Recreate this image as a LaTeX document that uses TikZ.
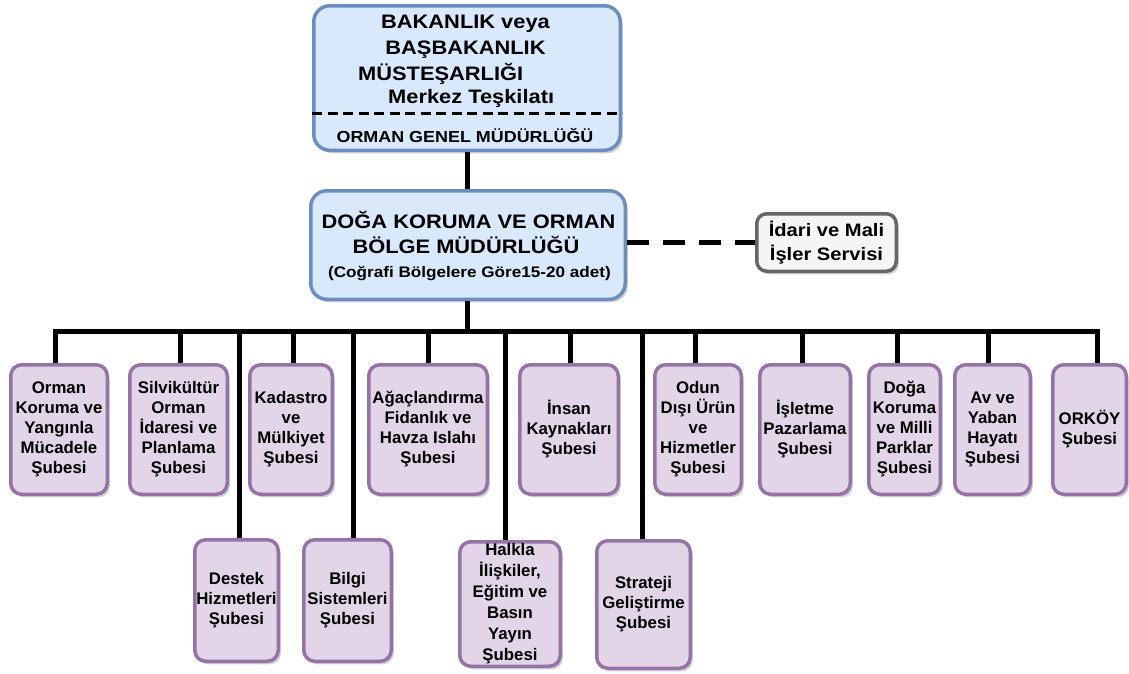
\documentclass[tikz,border=0pt]{standalone}
\usepackage{fontspec}
\setmainfont{Liberation Sans}
\newfontfamily\widefont{Liberation Sans}[FakeStretch=1.12]
\usetikzlibrary{shadows}
\definecolor{pfill}{HTML}{E1D5E7}
\definecolor{pdraw}{HTML}{9673A6}
\definecolor{bfill}{HTML}{DAE8FC}
\definecolor{bdraw}{HTML}{6C8EBF}
\definecolor{gfill}{HTML}{F5F5F5}
\definecolor{gdraw}{HTML}{666666}
\begin{document}
\begin{tikzpicture}[x=1pt,y=-1pt,
  shad/.style={drop shadow={shadow xshift=2.5pt,shadow yshift=-3pt,fill=black,opacity=0.18}},
  sube/.style={draw=pdraw, fill=pfill, line width=3.5pt, rounded corners=11pt,
    align=center, inner sep=0pt, shad,
    font=\fontsize{16.8}{20}\selectfont\bfseries},
  bigbox/.style={draw=bdraw, fill=bfill, line width=3.5pt, rounded corners=16pt,
    inner sep=0pt, shad},
  wtxt/.style={inner sep=0pt, anchor=base, font=\widefont\fontsize{19.5}{24}\selectfont\bfseries},
  conn/.style={line width=5pt, black}]
\useasboundingbox (0,0) rectangle (1129,673);

% top boxes
\node[bigbox, minimum width=306.5pt, minimum height=144.5pt] (top) at (467,78) {};
\draw[line width=3pt, dash pattern=on 10pt off 5.5pt] (top.west |- 0,113) coordinate (dl) -- (top.east |- dl);
\node[wtxt] (t1) at (465.5,28) {BAKANLIK veya};
\node[wtxt] (t2) at (465.5,54) {BAŞBAKANLIK};
\node[wtxt, anchor=base west] (t3) at (358,80) {MÜSTEŞARLIĞI};
\node[wtxt, anchor=base west] (t4) at (388,103) {Merkez Teşkilatı};
\node[wtxt, font=\widefont\fontsize{16}{20}\selectfont\bfseries] (t5) at (465,142) {ORMAN GENEL MÜDÜRLÜĞÜ};

\node[bigbox, minimum width=314.5pt, minimum height=108.5pt] (bolge) at (468,245) {};
\node[wtxt] (d1) at (468.5,228) {DOĞA KORUMA VE ORMAN};
\node[wtxt] (d2) at (466,253) {BÖLGE MÜDÜRLÜĞÜ};
\node[wtxt, font=\widefont\fontsize{15.3}{18}\selectfont\bfseries] (d3) at (469.5,277) {(Coğrafi Bölgelere Göre15-20 adet)};

\node[draw=gdraw, fill=gfill, line width=3.5pt, rounded corners=10pt, inner sep=0pt, shad,
  align=center, font=\widefont\fontsize{18}{24}\selectfont\bfseries,
  minimum width=139.5pt, minimum height=57.5pt] (idari) at (826.5,242.5) {İdari ve Mali\\İşler Servisi};

% row 1
\node[sube, minimum width=96.5pt, minimum height=129.5pt] (b1) at (59,429.5) {Orman\\Koruma ve\\Yangınla\\Mücadele\\Şubesi};
\node[sube, minimum width=97.5pt, minimum height=129.5pt] (b2) at (178.5,429.5) {Silvikültür\\Orman\\İdaresi ve\\Planlama\\Şubesi};
\node[sube, minimum width=82.5pt, minimum height=129.5pt] (b3) at (291,429.5) {Kadastro\\ve\\Mülkiyet\\Şubesi};
\node[sube, minimum width=118.5pt, minimum height=129.5pt] (b4) at (428,429.5) {Ağaçlandırma\\Fidanlık ve\\Havza Islahı\\Şubesi};
\node[sube, minimum width=98.5pt, minimum height=129.5pt] (b5) at (569,429.5) {İnsan\\Kaynakları\\Şubesi};
\node[sube, minimum width=86.5pt, minimum height=129.5pt] (b6) at (698,429.5) {Odun\\Dışı Ürün\\ve\\Hizmetler\\Şubesi};
\node[sube, minimum width=90.5pt, minimum height=129.5pt] (b7) at (805,429.5) {İşletme\\Pazarlama\\Şubesi};
\node[sube, minimum width=71.5pt, minimum height=129.5pt] (b8) at (904.5,429.5) {Doğa\\Koruma\\ve Milli\\Parklar\\Şubesi};
\node[sube, minimum width=75.5pt, minimum height=129.5pt] (b9) at (992.5,429.5) {Av ve\\Yaban\\Hayatı\\Şubesi};
\node[sube, minimum width=73.5pt, minimum height=129.5pt] (b10) at (1089.5,429.5) {ORKÖY\\Şubesi};

% row 2
\node[sube, minimum width=83.5pt, minimum height=121.5pt] (r1) at (236.5,600.5) {Destek\\Hizmetleri\\Şubesi};
\node[sube, minimum width=87.5pt, minimum height=121.5pt] (r2) at (347.5,600.5) {Bilgi\\Sistemleri\\Şubesi};
\node[sube, minimum width=100.5pt, minimum height=124.5pt, font=\fontsize{16.8}{21}\selectfont\bfseries] (r3) at (510,604) {Halkla\\İlişkiler,\\Eğitim ve\\Basın\\Yayın\\Şubesi};
\node[sube, minimum width=93.5pt, minimum height=127.5pt] (r4) at (643.5,604.5) {Strateji\\Geliştirme\\Şubesi};

% connectors
\draw[conn] (top.south) -- (top.south |- bolge.north);
\coordinate (hub) at (467,331);
\draw[conn] (hub |- bolge.south) -- (hub);
\draw[line width=5pt, dash pattern=on 22pt off 14pt] (idari.west -| bolge.east) -- (idari.west);

\coordinate (busL) at (55,331);
\coordinate (busR) at (1097,331);
\draw[conn] (busL |- b1.north) -- (busL) -- (busR) -- (busR |- b10.north);
\foreach \x/\n in {180/b2,293/b3,428/b4,570/b5,695/b6,802/b7,897/b8,988/b9}{
  \coordinate (c\n) at (\x,331);
  \draw[conn] (c\n) -- (c\n |- \n.north);
}
\foreach \x/\n in {239/r1,353/r2,505/r3,642/r4}{
  \coordinate (c\n) at (\x,331);
  \draw[conn] (c\n) -- (c\n |- \n.north);
}
\end{tikzpicture}
\end{document}
